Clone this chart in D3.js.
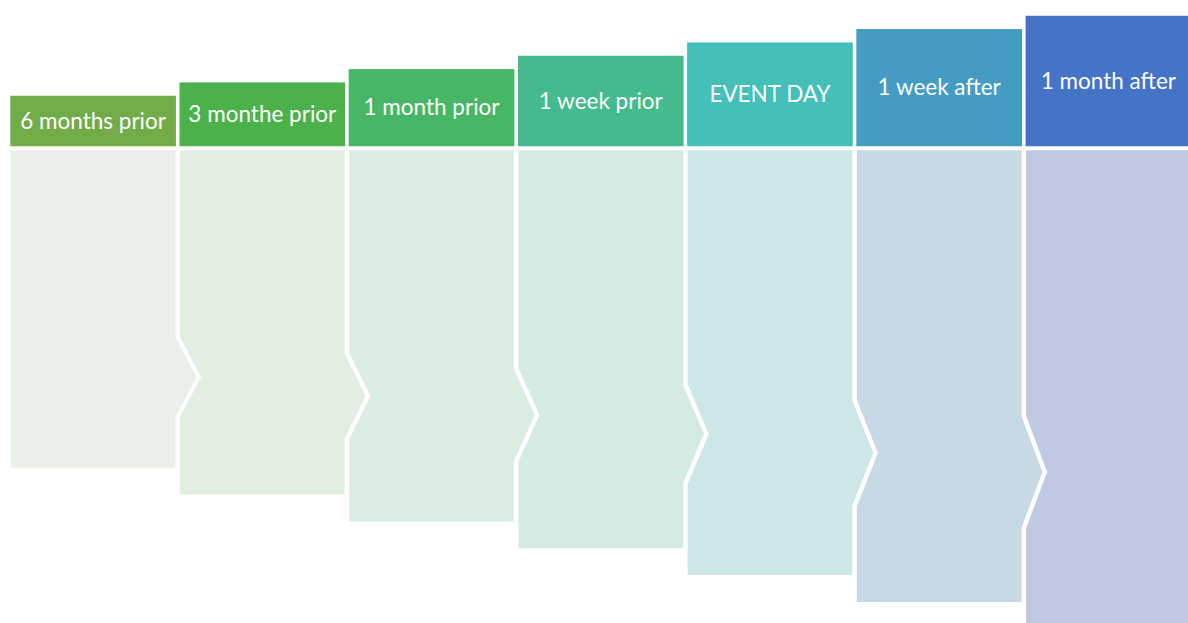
<!DOCTYPE html>
<html>
<head>
<meta charset="utf-8">
<script src="https://cdn.jsdelivr.net/npm/d3@7"></script>
<style>
  body { margin: 0; background: #fff; }
  svg { display: block; }
</style>
</head>
<body>
<div class="svg-container"></div>
<script>
const labels = ['6 months prior', '3 monthe prior', '1 month prior', '1 week prior', 'EVENT DAY', '1 week after', '1 month after'];
const steps = [0, 1, 2, 3, 4, 5, 6];
const headColors = ['#71AC48', '#4BB14A', '#47B666', '#43BB8C', '#44BFBA', '#449CC2', '#4573C5'];
const bodyColors = ['#EAEFE8', '#E2EEE2', '#DBECE2', '#D5EAE3', '#CFE6E7', '#C7D9E5', '#BFC9E4'];

const outerWidth = 1188;
const outerHeight = 623;
const bodyTop = 149;
const depth = 21;

const svg = d3.select('.svg-container')
.append('svg')
.attr('width', outerWidth)
.attr('height', outerHeight);

const xScale = d3.scaleBand()
.domain(steps)
.range([9.5, 1192])
.paddingInner(0.012);

const headTop = d3.scaleLinear().domain([0, 6]).range([95, 15]);
const bodyBottom = d3.scaleLinear().domain([0, 6]).range([469, 630]);
const notchMid = d3.scaleLinear().domain([1, 6]).range([377, 472]);
const notchHalf = d3.scaleLinear().domain([1, 6]).range([40, 56]);

const bodyPoints = i => {
  const x0 = xScale(i);
  const x1 = x0 + xScale.bandwidth();
  const bot = bodyBottom(i);
  const pts = [[x0, bodyTop], [x1, bodyTop]];
  if (i < steps.length - 1) {
    const m = notchMid(i + 1), h = notchHalf(i + 1);
    pts.push([x1, m - h], [x1 + depth, m], [x1, m + h]);
  }
  pts.push([x1, bot], [x0, bot]);
  if (i > 0) {
    const m = notchMid(i), h = notchHalf(i);
    pts.push([x0, m + h], [x0 + depth, m], [x0, m - h]);
  }
  return pts;
};

svg.selectAll('polygon.body')
.data(steps)
.enter()
.append('polygon')
.attr('class', 'body')
.attr('points', d => bodyPoints(d).join(' '))
.attr('fill', d => bodyColors[d])
.attr('stroke', 'white')
.attr('stroke-width', 2.5)
.attr('stroke-linejoin', 'miter');

svg.selectAll('rect.head')
.data(steps)
.enter()
.append('rect')
.attr('class', 'head')
.attr('x', d => xScale(d))
.attr('y', d => headTop(d))
.attr('width', xScale.bandwidth())
.attr('height', d => 147 - headTop(d))
.attr('fill', d => headColors[d])
.attr('stroke', 'white')
.attr('stroke-width', 1.5);

svg.selectAll('text.label')
.data(steps)
.enter()
.append('text')
.attr('class', 'label')
.attr('x', d => xScale(d) + xScale.bandwidth() / 2)
.attr('y', d => (headTop(d) + 145) / 2)
.attr('text-anchor', 'middle')
.attr('dominant-baseline', 'central')
.style('font-family', 'Lato, "Open Sans", sans-serif')
.style('font-size', '22.5px')
.attr('fill', 'white')
.text(d => labels[d]);
</script>
</body>
</html>
